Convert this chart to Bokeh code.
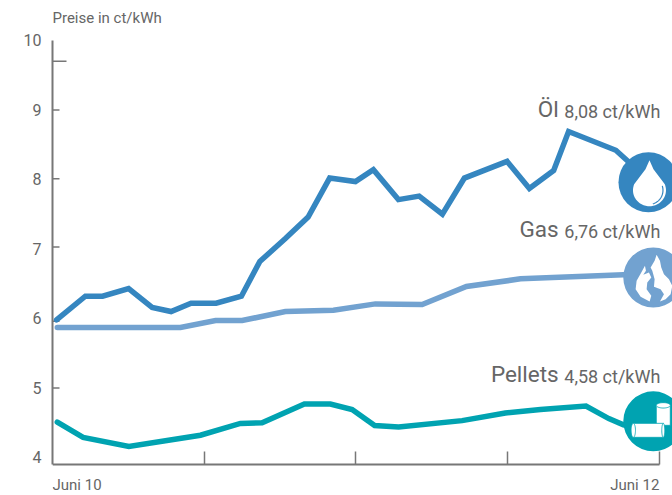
import numpy as np
from bokeh.plotting import figure
from bokeh.models import Range1d, FixedTicker, Label
from bokeh.embed import file_html
from bokeh.resources import INLINE

oil_x = [0.16,1.30,1.98,3.01,3.94,4.69,5.48,6.47,7.47,8.20,9.21,10.11,10.96,11.98,12.69,13.68,14.50,15.42,16.29,17.98,18.86,19.82,20.41,22.28,23.25]
oil_y = [5.98,6.32,6.32,6.43,6.16,6.10,6.22,6.22,6.32,6.82,7.15,7.46,8.02,7.97,8.14,7.71,7.76,7.50,8.02,8.26,7.87,8.13,8.69,8.42,8.10]
gas_x = [0.19,5.06,6.45,7.50,9.21,11.11,12.77,14.62,16.37,18.51,22.58,23.45]
gas_y = [5.87,5.87,5.97,5.97,6.10,6.12,6.21,6.20,6.46,6.57,6.63,6.63]
pel_x = [0.19,1.21,3.02,5.85,7.43,8.29,9.96,10.99,11.85,12.74,13.69,16.20,17.91,19.30,21.10,22.00,22.58,23.25]
pel_y = [4.51,4.29,4.16,4.32,4.49,4.50,4.77,4.77,4.69,4.46,4.44,4.53,4.64,4.69,4.74,4.56,4.47,4.42]
y_tick_labels = ["4","5","6","7","8","9","10"]
y_label_values = [4,5,6,7,8,9,10]
y_tick_marks = [5.0,5.96,7.03,8.01,9.0]
top_tick_mark = 9.7
x_tick_marks = [6,12,18,24]

OIL, GAS, PEL = "#3586c0", "#72a2d0", "#00a3b1"
GREY, TEXT = "#777777", "#666666"
FONT = "Roboto"
PXX, PXY = 25.29, 69.5
Y0 = 3.899   # level of the horizontal axis line

p = figure(width=672, height=495, output_backend="svg", toolbar_location=None,
           x_range=Range1d(0, 24.52), y_range=Range1d(3.453, 10.46),
           min_border_left=52, min_border_right=0, min_border_top=8, min_border_bottom=0,
           outline_line_color=None, background_fill_color="white", border_fill_color="white")
p.grid.visible = False

ya = p.yaxis[0]
ya.ticker = FixedTicker(ticks=y_label_values)
ya.major_label_overrides = {v: t for v, t in zip(y_label_values, y_tick_labels)}
ya.bounds = (Y0, 10)
ya.major_tick_in = 0; ya.major_tick_out = 0; ya.minor_tick_line_color = None
ya.axis_line_color = GREY; ya.axis_line_width = 2
ya.major_label_text_font = FONT; ya.major_label_text_font_size = "16px"
ya.major_label_text_color = TEXT; ya.major_label_standoff = 11

xa = p.xaxis[0]
xa.fixed_location = Y0
xa.ticker = FixedTicker(ticks=x_tick_marks)
xa.bounds = (0, 24)
xa.major_tick_in = 13; xa.major_tick_out = 0; xa.minor_tick_line_color = None
xa.major_tick_line_color = GREY; xa.major_tick_line_width = 1.5
xa.axis_line_color = GREY; xa.axis_line_width = 2
xa.major_label_text_color = None; xa.major_label_text_font_size = "1px"

p.segment(x0=[0]*len(y_tick_marks), x1=[7/PXX]*len(y_tick_marks), y0=y_tick_marks, y1=y_tick_marks,
          line_color=GREY, line_width=1.5)
p.segment(x0=[0], x1=[14/PXX], y0=[top_tick_mark], y1=[top_tick_mark], line_color=GREY, line_width=1.5)

for xs, ys, c in ((gas_x, gas_y, GAS), (oil_x, oil_y, OIL), (pel_x, pel_y, PEL)):
    p.line(xs, ys, line_color=c, line_width=5.5, line_join="miter", line_cap="round")

# Icons
centres = {"oil": (23.57, 7.96, OIL), "gas": (23.76, 6.59, GAS), "pel": (23.76, 4.52, PEL)}
for cx, cy, c in centres.values():
    p.scatter([cx], [cy], size=60, marker="circle", fill_color=c, line_color=None)

def offs(cx, cy, pts):
    a = np.asarray(pts, dtype=float)
    return cx + a[:, 0] / PXX, cy - a[:, 1] / PXY

# drop
cx, cy, c = centres["oil"]
th = np.linspace(-0.12 * np.pi, 1.12 * np.pi, 60)
drop = [(1, -22), (5, -13)] + [(1 + 16.5 * np.cos(t), 8 + 16 * np.sin(t)) for t in th] + [(-3, -13)]
dx, dy = offs(cx, cy, drop)
p.patch(dx, dy, fill_color="white", line_color=None)
arc = [(1 + 13.5 * np.cos(t), 8 + 14 * np.sin(t)) for t in np.linspace(-0.1 * np.pi, 0.42 * np.pi, 20)]
dx, dy = offs(cx, cy, arc)
p.line(dx, dy, line_color=c, line_width=1.2)

# flame
cx, cy, c = centres["gas"]
lobe = [(433,165),(436,180),(428,192),(445,185),(452,200),(440,215),(438,235),(452,255),(447,272),(420,258),(405,235),(408,210),(422,185)]
right = [(468,132),(478,150),(482,170),(490,190),(505,205),(515,225),(510,250),(495,265),(478,272),(490,250),(480,235),(460,228),(462,205),(455,180),(450,170),(462,150)]
for shape in (lobe, right):
    pts = [((a - 458) / 3, (b - 200) / 3) for a, b in shape]
    dx, dy = offs(cx, cy, pts)
    p.patch(dx, dy, fill_color="white", line_color=None)

# pellets
cx, cy, c = centres["pel"]
def ell(ex, ey, rx, ry):
    return [(ex + rx * np.cos(t), ey + ry * np.sin(t)) for t in np.linspace(0, 2 * np.pi, 40)]
for pts in ([(3, -16), (17, -16), (17, 4), (3, 4)], ell(10, -16, 7, 2.7),
            [(-20, 2), (10, 2), (10, 16), (-20, 16)], ell(10, 9, 1.5, 7), ell(-20, 9, 2.2, 7)):
    dx, dy = offs(cx, cy, pts)
    p.patch(dx, dy, fill_color="white", line_color=c, line_width=0.8)

def label(x, y, s, size, align="right"):
    p.add_layout(Label(x=x, y=y, text=s, text_font=FONT, text_font_size=size, text_color=TEXT,
                       text_align=align, text_baseline="alphabetic"))

label(0.0, 10.32, "Preise in ct/kWh", "15px", "left")
label(0.0, 3.60, "Juni 10", "15px", "left")
label(24.0, 3.60, "Juni 12", "15px")
for name, val, yb in (("Öl", "8,08 ct/kWh", 8.89), ("Gas", "6,76 ct/kWh", 7.16), ("Pellets", "4,58 ct/kWh", 5.07)):
    label(20.02, yb + 0.13, name, "22.5px")
    label(24.04, yb + 0.095, val, "18px")

open("out.html", "w").write(file_html(p, INLINE))
